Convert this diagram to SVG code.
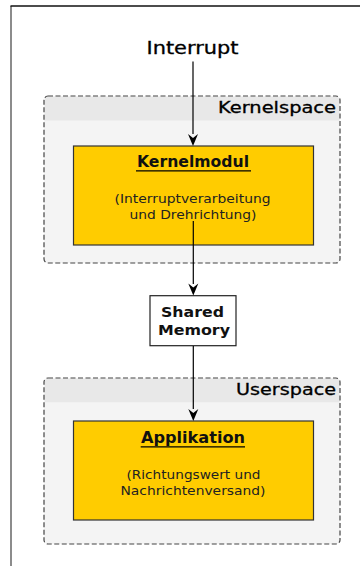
<svg xmlns="http://www.w3.org/2000/svg" width="360" height="566" viewBox="0 0 360 566">
<defs>
<style>
.t{font-family:"DejaVu Sans",Verdana,sans-serif;fill:#111}
.lbl{font-size:17px;fill:#000;stroke:#000;stroke-width:0.3}
.zone{font-size:15px;fill:#000;stroke:#000;stroke-width:0.3}
.title{font-size:15px;font-weight:bold}
.sub{font-size:12.8px;fill:#222}
.mem{font-size:14.5px;font-weight:bold}
.zbox{fill:#f4f4f4}
.zline{fill:none;stroke:#444;stroke-width:1.2;stroke-dasharray:5,2.5}
.zhead{fill:#e8e8e8}
.mod{fill:#ffcc00;stroke:#333;stroke-width:1.2}
.conn{stroke:#000;stroke-width:1.2;fill:none}
</style>
</defs>
<g id="frame">
<line x1="11" y1="6" x2="11" y2="566" stroke="#666" stroke-width="1.5"/>
<line x1="10.5" y1="6" x2="360" y2="6" stroke="#111" stroke-width="1.5"/>
</g>
<g id="kernelspace">
<rect class="zbox" x="44" y="96" width="296" height="167" rx="4"/>
<path class="zhead" d="M44.8,100 Q44.8,96.8 48,96.8 L336,96.8 Q339.2,96.8 339.2,100 L339.2,120.5 L44.8,120.5 Z"/>
<rect class="zline" x="44" y="96" width="296" height="167" rx="4"/>
<text class="t zone" x="336" y="113" text-anchor="end" textLength="118" lengthAdjust="spacingAndGlyphs">Kernelspace</text>
</g>
<g id="userspace">
<rect class="zbox" x="44" y="378" width="296" height="166" rx="4"/>
<path class="zhead" d="M44.8,382 Q44.8,378.8 48,378.8 L336,378.8 Q339.2,378.8 339.2,382 L339.2,402.3 L44.8,402.3 Z"/>
<rect class="zline" x="44" y="378" width="296" height="166" rx="4"/>
<text class="t zone" x="336" y="395" text-anchor="end" textLength="100" lengthAdjust="spacingAndGlyphs">Userspace</text>
</g>
<g id="interrupt">
<text class="t lbl" x="192.5" y="53.5" text-anchor="middle" textLength="92" lengthAdjust="spacingAndGlyphs">Interrupt</text>
</g>
<g id="kernelmodul">
<rect class="mod" x="73.5" y="146" width="240" height="99"/>
<text class="t title" x="193" y="166.7" text-anchor="middle" textLength="112" lengthAdjust="spacingAndGlyphs">Kernelmodul</text>
<line x1="136" y1="170.8" x2="251" y2="170.8" stroke="#000" stroke-width="1.2"/>
<text class="t sub" x="192.5" y="203.3" text-anchor="middle" textLength="156" lengthAdjust="spacingAndGlyphs">(Interruptverarbeitung</text>
<text class="t sub" x="193" y="219.3" text-anchor="middle" textLength="127" lengthAdjust="spacingAndGlyphs">und Drehrichtung)</text>
</g>
<g id="shared-memory">
<rect x="150" y="295.7" width="86" height="50" fill="#fff" stroke="#222" stroke-width="1.2"/>
<text class="t mem" x="192.5" y="316.7" text-anchor="middle" textLength="63" lengthAdjust="spacingAndGlyphs">Shared</text>
<text class="t mem" x="194" y="335" text-anchor="middle" textLength="72" lengthAdjust="spacingAndGlyphs">Memory</text>
</g>
<g id="applikation">
<rect class="mod" x="73.5" y="421" width="240" height="99"/>
<text class="t title" x="193" y="442.7" text-anchor="middle" textLength="104" lengthAdjust="spacingAndGlyphs">Applikation</text>
<line x1="140.7" y1="446.8" x2="245" y2="446.8" stroke="#000" stroke-width="1.2"/>
<text class="t sub" x="193.5" y="479.3" text-anchor="middle" textLength="134" lengthAdjust="spacingAndGlyphs">(Richtungswert und</text>
<text class="t sub" x="193" y="495.3" text-anchor="middle" textLength="145" lengthAdjust="spacingAndGlyphs">Nachrichtenversand)</text>
</g>
<g id="connectors">
<path class="conn" d="M193,61.5 L193,134"/>
<path d="M188,134 L193,138 L198,134 L193,146 Z" fill="#000"/>
<path class="conn" d="M193.3,221 L193.3,284"/>
<path d="M188.3,283.5 L193.3,287.5 L198.3,283.5 L193.3,295.5 Z" fill="#000"/>
<path class="conn" d="M193.3,346 L193.3,409"/>
<path d="M188.3,409 L193.3,413 L198.3,409 L193.3,421 Z" fill="#000"/>
</g>
</svg>
